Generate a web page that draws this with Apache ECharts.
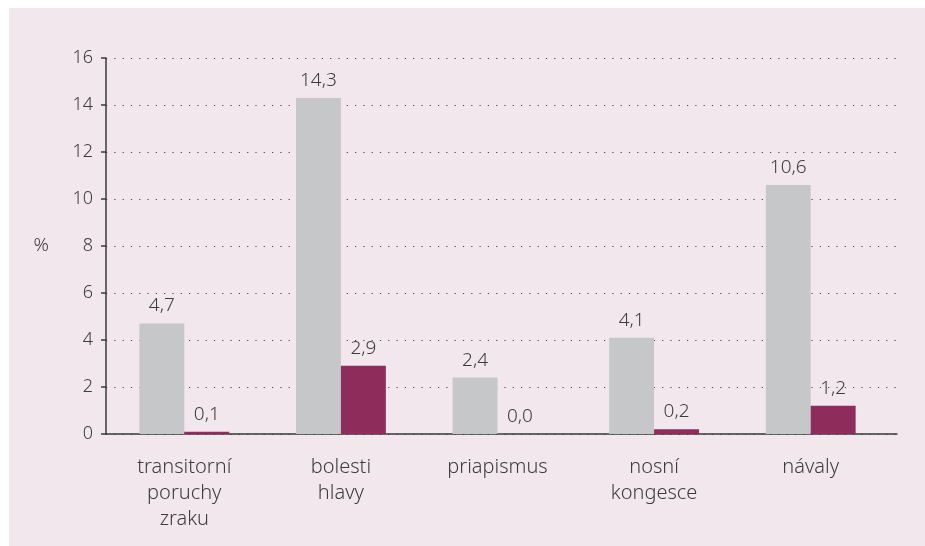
<!DOCTYPE html>
<html><head><meta charset="utf-8">
<script src="https://cdn.jsdelivr.net/npm/echarts@6/dist/echarts.min.js"></script>
<style>html,body{margin:0;padding:0;background:#fff;}#c{position:absolute;left:9px;top:8px;width:916px;height:538px;background:#f3e7ee;}</style>
</head><body><div id="c"></div>
<script>
const categories = ['transitorní\nporuchy\nzraku', 'bolesti\nhlavy', 'priapismus', 'nosní\nkongesce', 'návaly'];
const seriesGray = [4.7, 14.3, 2.4, 4.1, 10.6];
const seriesPurple = [0.1, 2.9, 0.0, 0.2, 1.2];
const yTicks = [0, 2, 4, 6, 8, 10, 12, 14, 16];

const chart = echarts.init(document.getElementById('c'));
const txt = '#3f3a3d';
const font = 'Noto Sans';
const axisCol = '#3a3a3a';
const lbl = {show:true, position:'top', distance:8, color:txt, fontFamily:font, fontSize:19, fontWeight:300,
  formatter: p => p.value.toFixed(1).replace('.', ',')};
chart.setOption({
  backgroundColor:'#f3e7ee',
  animation:false,
  grid:[
    {left:97, right:36, top:50, bottom:112},
    {left:97, right:28, top:50, bottom:112}
  ],
  xAxis:[
    {type:'category', data:categories, gridIndex:0,
      axisLine:{show:false},
      axisTick:{show:false},
      axisLabel:{color:txt, fontFamily:font, fontSize:20, fontWeight:300, lineHeight:26, margin:20}
    },
    {type:'value', gridIndex:1, min:0, max:1,
      axisLine:{show:true, onZero:false, lineStyle:{color:axisCol, width:1.5}},
      axisTick:{show:false}, axisLabel:{show:false}, splitLine:{show:false}
    }
  ],
  yAxis:[
    {type:'value', gridIndex:0, min:0, max:16, interval:2,
      name:'%', nameLocation:'middle', nameRotate:0, nameGap:57,
      nameTextStyle:{color:txt, fontFamily:font, fontSize:19, fontWeight:300},
      axisLine:{show:true, lineStyle:{color:axisCol, width:1.5}},
      axisTick:{show:true, inside:false, length:5, lineStyle:{color:axisCol, width:1.5}},
      axisLabel:{color:txt, fontFamily:font, fontSize:18, fontWeight:300, margin:13,
        formatter: v => yTicks.includes(v) ? String(v) : ''},
      splitLine:{show:false}
    },
    {type:'value', gridIndex:1, min:0, max:16, interval:2,
      axisLine:{show:false}, axisTick:{show:false}, axisLabel:{show:false},
      splitLine:{show:true, lineStyle:{color:'#444', width:1.2, type:[1.2,7.1]}}
    }
  ],
  series:[
    {type:'bar', xAxisIndex:0, yAxisIndex:0, z:3, data:seriesGray, barWidth:'28.7%', barGap:'0%', itemStyle:{color:'#c6c7c9'}, label:lbl},
    {type:'bar', xAxisIndex:0, yAxisIndex:0, z:3, data:seriesPurple, barWidth:'28.7%', barGap:'0%', itemStyle:{color:'#8e2c5c'}, label:lbl}
  ]
});
</script></body></html>
